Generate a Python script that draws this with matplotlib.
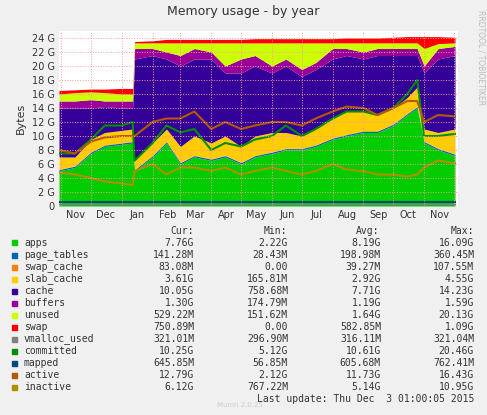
import numpy as np
import pandas as pd
import matplotlib
matplotlib.use("Agg")
import matplotlib.pyplot as plt
import matplotlib.dates as mdates

dates = pd.to_datetime([
    "2014-10-30", "2014-11-15", "2014-12-01", "2014-12-15", "2015-01-01", "2015-01-12",
    "2015-01-14", "2015-02-01", "2015-02-15", "2015-03-01", "2015-03-15", "2015-04-01",
    "2015-04-15", "2015-05-01", "2015-05-15", "2015-06-01", "2015-06-15", "2015-07-01",
    "2015-07-15", "2015-08-01", "2015-08-15", "2015-09-01", "2015-09-15", "2015-10-01",
    "2015-10-15", "2015-10-25", "2015-11-01", "2015-11-15", "2015-12-02",
])
# stacked tops in G
apps_top = [5, 5.5, 7.5, 8.5, 8.8, 9, 5, 7, 9, 6, 7, 6.5, 7, 6, 7, 7.5, 8, 8, 8.5,
            9.5, 10, 10.5, 10.5, 11.5, 13, 14, 9, 8, 7.2]
slab_top = [7, 7, 9.5, 10.5, 10.8, 11, 6.5, 9, 11, 8.5, 10, 9, 10, 8.5, 10, 10.5, 10.5,
            10, 11, 12.5, 13.5, 13.5, 13, 14, 15.5, 17, 11, 10.5, 11]
cache_top = [14, 14, 14, 14.2, 14, 14, 21, 21.5, 21, 20, 21, 21, 19, 19, 20, 19, 20,
             18.5, 19.5, 21, 21.5, 21, 21.5, 21.5, 21.5, 21.5, 19, 21, 21.5]
buffers_top = [15, 15, 15.2, 15, 15, 15, 22.5, 22.5, 22, 21.5, 22.5, 22, 20, 21, 21.5,
               20, 21, 19.5, 20.5, 22.5, 22.5, 22, 22.5, 22.5, 22.5, 22.5, 20, 22.5, 22.8]
unused_top = [16, 16.2, 16.3, 16.2, 16, 16, 23.3, 23.3, 23.3, 23.3, 23.3, 23.3, 23.3,
              23.3, 23.3, 23.3, 23.3, 23.3, 23.3, 23.3, 23.3, 23.3, 23.3, 23.3, 23.3,
              23.3, 22.5, 23.2, 23.3]
swap_top = [16.5, 16.6, 16.7, 16.7, 16.8, 16.8, 23.5, 23.6, 23.8, 23.8, 23.8, 23.8, 23.8,
            23.8, 23.9, 23.9, 23.9, 23.9, 23.9, 23.9, 24, 24, 24, 24.1, 24.2, 24.2, 24.2,
            24.2, 24.1]
committed = [7.5, 7.5, 9.5, 11.5, 11.5, 12, 6.5, 9, 11.5, 10.5, 11, 8, 9, 8.5, 9.5, 10,
             11.5, 10, 11, 12.5, 13.5, 13.5, 13, 14, 16, 18, 10, 10, 10.3]
active = [8, 7.5, 9.2, 9.8, 10, 10, 10, 12, 12.5, 12.5, 13.5, 11, 12, 11, 11.5, 12, 12,
          11.5, 12.5, 13.5, 14.2, 14, 13, 14, 15, 15, 12, 13, 12.8]
inactive = [4.8, 4.5, 4, 3.5, 3.2, 3, 5, 6, 4.5, 5.5, 5.5, 5, 5.5, 4.5, 5, 5.5, 5, 4.5,
            5, 6, 5.2, 5, 4.5, 4.5, 4.2, 4.5, 5.5, 6.5, 6.1]
page_tables = 0.2
swap_cache = 0.05
mapped = 0.6
vmalloc_used = 0.3

names = ["apps", "page_tables", "swap_cache", "slab_cache", "cache", "buffers",
         "unused", "swap", "vmalloc_used", "committed", "mapped", "active", "inactive"]
colors = ["#00cc00", "#0066b3", "#ff8000", "#ffcc00", "#330099", "#990099",
          "#ccff00", "#ff0000", "#808080", "#008f00", "#00487d", "#b35a00", "#b38f00"]
cur = ["7.76G", "141.28M", "83.08M", "3.61G", "10.05G", "1.30G", "529.22M", "750.89M",
       "321.01M", "10.25G", "645.85M", "12.79G", "6.12G"]
mins = ["2.22G", "28.43M", "0.00", "165.81M", "758.68M", "174.79M", "151.62M", "0.00",
        "296.90M", "5.12G", "56.85M", "2.12G", "767.22M"]
avgs = ["8.19G", "198.98M", "39.27M", "2.92G", "7.71G", "1.19G", "1.64G", "582.85M",
        "316.11M", "10.61G", "605.68M", "11.73G", "5.14G"]
maxs = ["16.09G", "360.45M", "107.55M", "4.55G", "14.23G", "1.59G", "20.13G", "1.09G",
        "321.04M", "20.46G", "762.41M", "16.43G", "10.95G"]

apps_top = np.array(apps_top)
base = np.zeros(len(dates))
tops = [apps_top, apps_top + page_tables, apps_top + page_tables + swap_cache,
        np.array(slab_top), np.array(cache_top), np.array(buffers_top),
        np.array(unused_top), np.array(swap_top)]

fig = plt.figure(figsize=(4.87, 4.15), dpi=100, facecolor="#f0f0f0")
ax = fig.add_axes([59 / 487, 1 - 206 / 415, 399 / 487, 175 / 415])
ax.set_facecolor("white")

prev = base
for top, c in zip(tops, colors[:8]):
    ax.fill_between(dates, prev, top, color=c, linewidth=0)
    prev = top
ax.plot(dates, [vmalloc_used] * len(dates), color=colors[8], lw=1)
ax.plot(dates, committed, color=colors[9], lw=1.5)
ax.plot(dates, [mapped] * len(dates), color=colors[10], lw=1.5)
ax.plot(dates, active, color=colors[11], lw=1.5)
ax.plot(dates, inactive, color=colors[12], lw=1.5)

ax.set_xlim(pd.Timestamp("2014-10-30"), pd.Timestamp("2015-12-05"))
ax.set_ylim(0, 25)
ax.set_yticks(range(0, 25, 2))
ax.set_yticklabels(["0"] + [f"{v} G" for v in range(2, 25, 2)])
ax.xaxis.set_major_locator(mdates.MonthLocator())
ax.xaxis.set_major_formatter(plt.NullFormatter())
ax.xaxis.set_minor_locator(mdates.MonthLocator(bymonthday=16))
ax.xaxis.set_minor_formatter(mdates.DateFormatter("%b"))
ax.tick_params(which="both", length=0, labelsize=7, colors="#333333", pad=3)
ax.grid(True, which="major", axis="x", color="#ff9999", ls=":", lw=0.7)
ax.grid(True, which="major", axis="y", color="#ff9999", ls=":", lw=0.7)
ax.set_axisbelow(False)
for s in ax.spines.values():
    s.set_visible(False)
ax.set_ylabel("Bytes", fontsize=8, color="#333333")

fig.text(0.5, 1 - 12 / 415, "Memory usage - by year", ha="center", va="center",
         fontsize=9, color="#333333")
fig.text(481 / 487, 1 - 10 / 415, "RRDTOOL / TOBIOETIKER", rotation=270, ha="center",
         va="top", fontsize=5.5, color="#bbbbbb")

mono = "DejaVu Sans Mono"
row0 = 243
fs = 7
for x, h in [(182, "Cur:"), (275, "Min:"), (368, "Avg:"), (462, "Max:")]:
    fig.text(x / 487, 1 - 231 / 415, h, ha="center", va="center", fontsize=fs,
             family=mono, color="#333333")
for i, n in enumerate(names):
    y = 1 - (row0 + 12 * i) / 415
    fig.patches.append(plt.Rectangle((12 / 487, y - 2.5 / 415), 5 / 487, 5 / 415,
                                     transform=fig.transFigure, color=colors[i]))
    fig.text(24 / 487, y, n, va="center", fontsize=fs, family=mono, color="#333333")
    for x, col in [(194, cur), (288, mins), (381, avgs), (474, maxs)]:
        fig.text(x / 487, y, col[i], ha="right", va="center", fontsize=fs,
                 family=mono, color="#333333")
fig.text(474 / 487, 1 - 399 / 415, "Last update: Thu Dec  3 01:00:05 2015", ha="right",
         va="center", fontsize=fs, family=mono, color="#333333")
fig.text(240 / 487, 1 - 405 / 415, "Munin 2.0.25", ha="center", va="center",
         fontsize=5, color="#cccccc")

fig.savefig("out.png", dpi=100, facecolor=fig.get_facecolor())
